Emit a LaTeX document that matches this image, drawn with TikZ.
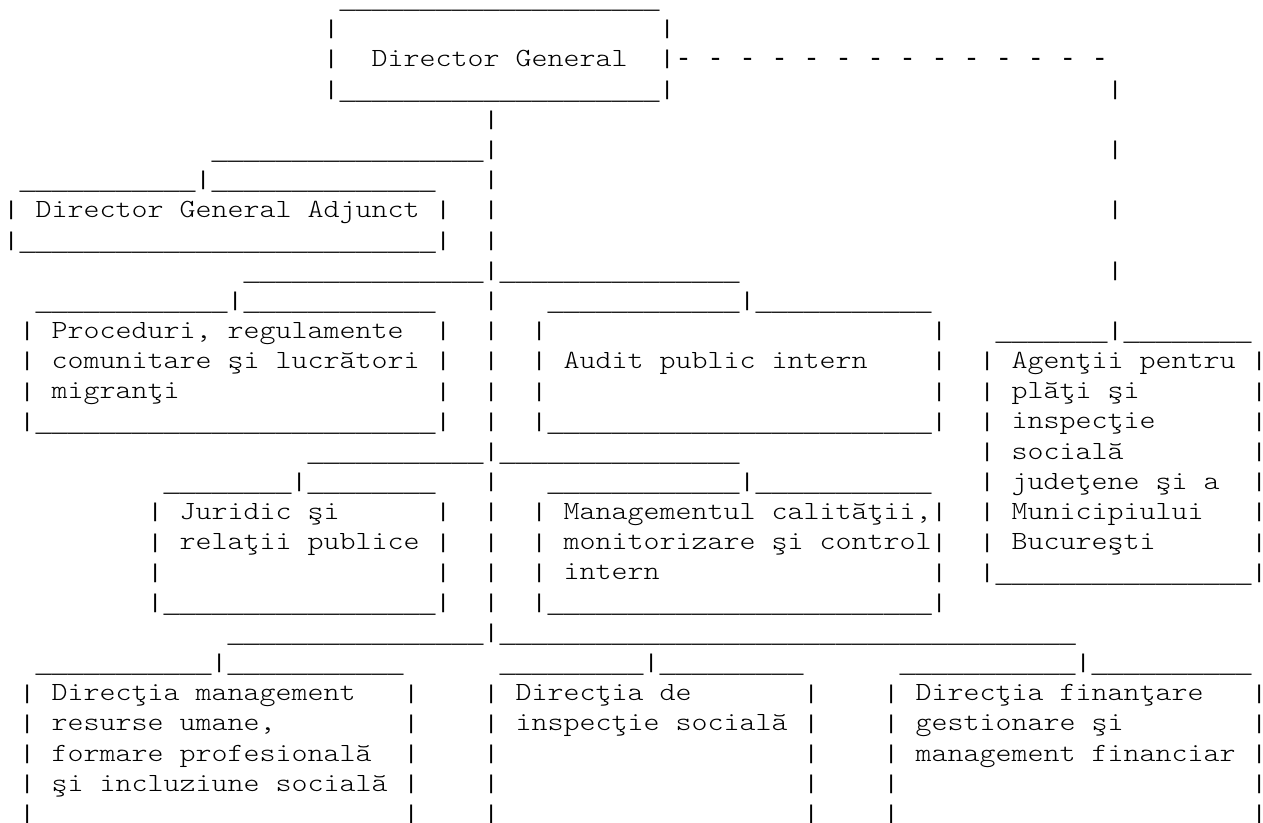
\documentclass[tikz,border=0pt]{standalone}
\usepackage{fontspec}
\newfontfamily\asciifont{Liberation Mono}
\newfontfamily\barfont{Liberation Sans}
\newfontfamily\letterfont{lmmonolt10-regular.otf}[FakeStretch=1.163]
\ExplSyntaxOn
\cs_new:Npn \asciirep #1#2 { \prg_replicate:nn {#1} {#2} }
\ExplSyntaxOff
\tikzset{
  glyphs/.style={anchor=base west, inner sep=0pt, outer sep=0pt,
    font=\letterfont\fontsize{26.2pt}{30.2pt}\selectfont, text=black},
  rulechars/.style={anchor=base west, inner sep=0pt, outer sep=0pt,
    font=\asciifont\fontsize{26.67pt}{30.2pt}\selectfont, text=black},
  barchar/.style={anchor=base, inner sep=0pt, outer sep=0pt,
    font=\barfont\fontsize{24pt}{30.2pt}\selectfont, text=black}}
\newcommand\seg[3]{\node[glyphs] (r#2c#1) at ({3.7pt+16pt*#1}, {-6pt-30.2pt*(#2-1)}) {#3};}
\newcommand\dashes[3]{\node[rulechars] (r#2c#1) at ({3.7pt+16pt*#1}, {-6pt-30.2pt*(#2-1)}) {#3};}
\newcommand\pp[2]{\node[barchar] (r#2c#1) at ({11.2pt+16pt*#1}, {-6pt-30.2pt*(#2-1)})
  {\makebox[4pt][c]{\raisebox{-2.7pt}[16pt][2.7pt]{\resizebox*{\width}{18.7pt}{\raisebox{\depth}{|}}}}};}
\newcommand\us[3]{\node[rulechars] (r#2c#1) at ({3.7pt+16pt*#1}, {-8.5pt-30.2pt*(#2-1)})
  {\raisebox{0pt}[0pt][\depth]{\asciirep{#3}{\_}}};}
\begin{document}
\begin{tikzpicture}
\useasboundingbox (0,0) rectangle (1263pt,-822pt);
\us{21}{1}{20}
\pp{20}{2}\pp{41}{2}
\pp{20}{3}\seg{23}{3}{Director General}\pp{41}{3}\dashes{42}{3}{- - - - - - - - - - - - - -}
\pp{20}{4}\us{21}{4}{20}\pp{41}{4}\pp{69}{4}
\pp{30}{5}
\us{13}{6}{17}\pp{30}{6}\pp{69}{6}
\us{1}{7}{11}\pp{12}{7}\us{13}{7}{14}\pp{30}{7}
\pp{0}{8}\seg{2}{8}{Director General Adjunct}\pp{27}{8}\pp{30}{8}\pp{69}{8}
\pp{0}{9}\us{1}{9}{26}\pp{27}{9}\pp{30}{9}
\us{15}{10}{15}\pp{30}{10}\us{31}{10}{15}\pp{69}{10}
\us{2}{11}{12}\pp{14}{11}\us{15}{11}{12}\pp{30}{11}\us{34}{11}{12}\pp{46}{11}\us{47}{11}{11}
\pp{1}{12}\seg{3}{12}{Proceduri, regulamente}\pp{27}{12}\pp{30}{12}\pp{33}{12}\pp{58}{12}\us{62}{12}{7}\pp{69}{12}\us{70}{12}{8}
\pp{1}{13}\seg{3}{13}{comunitare şi lucrători}\pp{27}{13}\pp{30}{13}\pp{33}{13}\seg{35}{13}{Audit public intern}\pp{58}{13}\pp{61}{13}\seg{63}{13}{Agenţii pentru}\pp{78}{13}
\pp{1}{14}\seg{3}{14}{migranţi}\pp{27}{14}\pp{30}{14}\pp{33}{14}\pp{58}{14}\pp{61}{14}\seg{63}{14}{plăţi şi}\pp{78}{14}
\pp{1}{15}\us{2}{15}{25}\pp{27}{15}\pp{30}{15}\pp{33}{15}\us{34}{15}{24}\pp{58}{15}\pp{61}{15}\seg{63}{15}{inspecţie}\pp{78}{15}
\us{19}{16}{11}\pp{30}{16}\us{31}{16}{15}\pp{61}{16}\seg{63}{16}{socială}\pp{78}{16}
\us{10}{17}{8}\pp{18}{17}\us{19}{17}{8}\pp{30}{17}\us{34}{17}{12}\pp{46}{17}\us{47}{17}{11}\pp{61}{17}\seg{63}{17}{judeţene şi a}\pp{78}{17}
\pp{9}{18}\seg{11}{18}{Juridic şi}\pp{27}{18}\pp{30}{18}\pp{33}{18}\seg{35}{18}{Managementul calităţii,}\pp{58}{18}\pp{61}{18}\seg{63}{18}{Municipiului}\pp{78}{18}
\pp{9}{19}\seg{11}{19}{relaţii publice}\pp{27}{19}\pp{30}{19}\pp{33}{19}\seg{35}{19}{monitorizare şi control}\pp{58}{19}\pp{61}{19}\seg{63}{19}{Bucureşti}\pp{78}{19}
\pp{9}{20}\pp{27}{20}\pp{30}{20}\pp{33}{20}\seg{35}{20}{intern}\pp{58}{20}\pp{61}{20}\us{62}{20}{16}\pp{78}{20}
\pp{9}{21}\us{10}{21}{17}\pp{27}{21}\pp{30}{21}\pp{33}{21}\us{34}{21}{24}\pp{58}{21}
\us{14}{22}{16}\pp{30}{22}\us{31}{22}{36}
\us{2}{23}{11}\pp{13}{23}\us{14}{23}{11}\us{31}{23}{9}\pp{40}{23}\us{41}{23}{9}\us{56}{23}{11}\pp{67}{23}\us{68}{23}{10}
\pp{1}{24}\seg{3}{24}{Direcţia management}\pp{25}{24}\pp{30}{24}\seg{32}{24}{Direcţia de}\pp{50}{24}\pp{55}{24}\seg{57}{24}{Direcţia finanţare}\pp{78}{24}
\pp{1}{25}\seg{3}{25}{resurse umane,}\pp{25}{25}\pp{30}{25}\seg{32}{25}{inspecţie socială}\pp{50}{25}\pp{55}{25}\seg{57}{25}{gestionare şi}\pp{78}{25}
\pp{1}{26}\seg{3}{26}{formare profesională}\pp{25}{26}\pp{30}{26}\pp{50}{26}\pp{55}{26}\seg{57}{26}{management financiar}\pp{78}{26}
\pp{1}{27}\seg{3}{27}{şi incluziune socială}\pp{25}{27}\pp{30}{27}\pp{50}{27}\pp{55}{27}\pp{78}{27}
\pp{1}{28}\pp{25}{28}\pp{30}{28}\pp{50}{28}\pp{55}{28}\pp{78}{28}
\end{tikzpicture}
\end{document}
